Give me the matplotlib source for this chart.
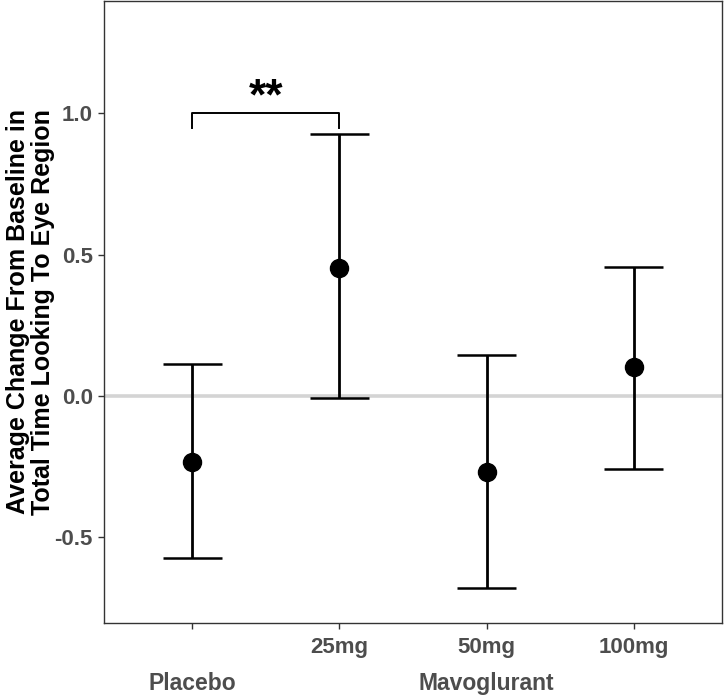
import numpy as np
import matplotlib.pyplot as plt

plt.rcParams['font.family'] = ['Liberation Sans', 'DejaVu Sans']

# data
doses = ['', '25mg', '50mg', '100mg']
groups = ['Placebo', 'Mavoglurant']
group_pos = [1, 3]
means = [-0.232, 0.454, -0.268, 0.102]
upper = [0.113, 0.926, 0.144, 0.458]
lower = [-0.574, -0.007, -0.680, -0.257]
sig_pair = (1, 2)
sig_label = '**'

x = np.arange(1, len(doses) + 1)
means = np.array(means)
upper = np.array(upper)
lower = np.array(lower)

fig = plt.figure(figsize=(7.24, 6.98), dpi=100)
ax = fig.add_axes([104 / 724, 1 - 623 / 698, 618 / 724, 622 / 698])

ax.axhline(0, color='#d4d4d4', lw=2.6, zorder=1)

ax.errorbar(x, means, yerr=[means - lower, upper - means], fmt='none',
            ecolor='black', elinewidth=2.0, capsize=0, zorder=2)
ax.hlines(upper, x - 0.2, x + 0.2, color='black', lw=1.8, zorder=2)
ax.hlines(lower, x - 0.2, x + 0.2, color='black', lw=1.8, zorder=2)
ax.plot(x, means, 'o', color='black', ms=13, zorder=3)

# significance bracket
x1, x2 = sig_pair
ax.plot([x1, x1, x2, x2], [0.95, 1.0, 1.0, 0.95], color='black', lw=1.4)
ax.text((x1 + x2) / 2, 1.055, sig_label, ha='center', va='center',
        fontsize=32, fontweight='bold', color='black')

ax.set_xlim(0.4, 4.6)
ax.set_ylim(-0.803, 1.398)
ax.set_xticks(x)
ax.set_xticklabels(doses)
ax.set_yticks([-0.5, 0.0, 0.5, 1.0])
ax.set_yticklabels(['-0.5', '0.0', '0.5', '1.0'])

for lab in ax.get_xticklabels() + ax.get_yticklabels():
    lab.set_fontweight('bold')
    lab.set_fontsize(16)
    lab.set_color('#4d4d4d')
ax.tick_params(axis='both', length=4, width=1, color='#333333')
ax.tick_params(axis='x', pad=6)
ax.tick_params(axis='y', pad=4)

for sp in ax.spines.values():
    sp.set_color('#333333')
    sp.set_linewidth(1.0)

for g, gx in zip(groups, group_pos):
    ax.text(gx, -0.097, g, transform=ax.get_xaxis_transform(),
            ha='center', va='center', fontsize=16.5, fontweight='bold',
            color='#4d4d4d')

ax.set_ylabel('Average Change From Baseline in\nTotal Time Looking To Eye Region',
              fontsize=18, fontweight='bold', color='black', linespacing=1.05)
ax.yaxis.set_label_coords(-0.08, 0.5)

fig.savefig('out.png', dpi=100)
